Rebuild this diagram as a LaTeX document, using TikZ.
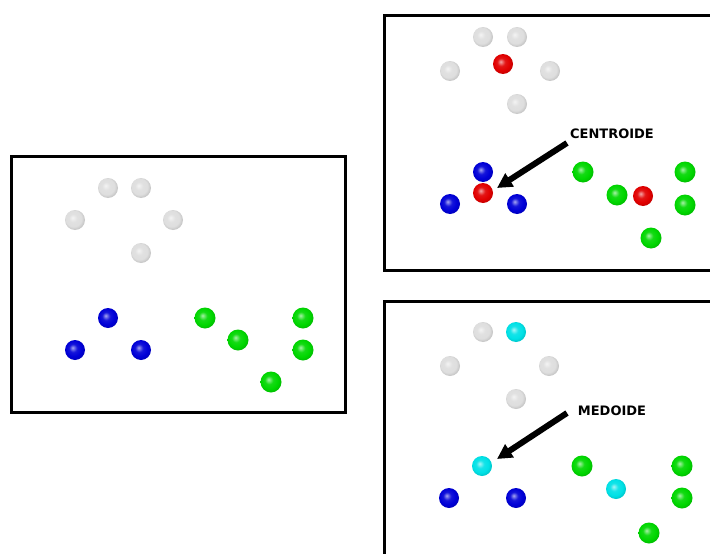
\documentclass[tikz,border=0pt]{standalone}
\usepackage{fontspec}
\setmainfont{DejaVu Sans}
\usetikzlibrary{arrows.meta}
\makeatletter
\pgfdeclareradialshading[tikz@ball]{softball}{\pgfpoint{-6bp}{6bp}}{%
  color(0bp)=(tikz@ball!35!white);
  color(10bp)=(tikz@ball!92!white);
  color(20bp)=(tikz@ball);
  color(31bp)=(tikz@ball!82!black);
  color(50bp)=(tikz@ball!65!black)}
\makeatother
\definecolor{myblue}{RGB}{0,0,215}
\definecolor{mygreen}{RGB}{0,215,0}
\definecolor{myred}{RGB}{225,0,0}
\definecolor{mycyan}{RGB}{0,225,230}
\definecolor{mywhite}{RGB}{222,222,222}
\tikzset{
  ball/.style={circle, minimum size=20pt, inner sep=0pt, ball color=#1, shading=softball},
  wb/.style={ball=mywhite},
  bb/.style={ball=myblue},
  gb/.style={ball=mygreen, minimum width=21pt},
  rb/.style={ball=myred},
  cb/.style={ball=mycyan},
  frame/.style={draw=black, line width=3pt},
  lbl/.style={font=\fontsize{13}{15}\selectfont\bfseries, inner sep=0pt},
  pointer/.style={line width=6pt, -{Triangle[length=15pt,width=15pt]}}
}
\begin{document}
\begin{tikzpicture}[x=1pt,y=-1pt]
\useasboundingbox (0,0) rectangle (710,554);
\clip (0,0) rectangle (710,554);
% frames
\draw[frame] (11,156) rectangle (345,412);
\draw[frame] (384,15) rectangle (720,270);
\draw[frame] (384,301) rectangle (720,570);
% left panel
\node[wb] (l1) at (108,188) {};
\node[wb] (l2) at (141,188) {};
\node[wb] (l3) at (75,220) {};
\node[wb] (l4) at (173,220) {};
\node[wb] (l5) at (141,253) {};
\node[bb] (l6) at (108,318) {};
\node[bb] (l7) at (75,350) {};
\node[bb] (l8) at (141,350) {};
\node[gb] (l9) at (205,318) {};
\node[gb] (l10) at (238,340) {};
\node[gb] (l11) at (303,318) {};
\node[gb] (l12) at (303,350) {};
\node[gb] (l13) at (271,382) {};
% top right panel
\node[wb] (t1) at (483,37) {};
\node[wb] (t2) at (517,37) {};
\node[wb] (t3) at (450,71) {};
\node[rb] (t4) at (503,64) {};
\node[wb] (t5) at (550,71) {};
\node[wb] (t6) at (517,104) {};
\node[bb] (t7) at (483,172) {};
\node[rb] (t8) at (483,193) {};
\node[bb] (t9) at (450,204) {};
\node[bb] (t10) at (517,204) {};
\node[gb] (t11) at (583,172) {};
\node[gb] (t12) at (617,195) {};
\node[rb] (t13) at (643,196) {};
\node[gb] (t14) at (685,172) {};
\node[gb] (t15) at (685,205) {};
\node[gb] (t16) at (651,238) {};
\node[lbl] (cent) at (612,134) {CENTROIDE};
\coordinate (cs) at (567,143);
\coordinate (ce) at (497,188);
\draw[pointer] (cs) -- (ce);
% bottom right panel
\node[wb] (b1) at (483,332) {};
\node[cb] (b2) at (516,332) {};
\node[wb] (b3) at (450,366) {};
\node[wb] (b4) at (549,366) {};
\node[wb] (b5) at (516,399) {};
\node[cb] (b6) at (482,466) {};
\node[bb] (b7) at (449,498) {};
\node[bb] (b8) at (516,498) {};
\node[gb] (b9) at (582,466) {};
\node[cb] (b10) at (616,489) {};
\node[gb] (b11) at (682,466) {};
\node[gb] (b12) at (682,498) {};
\node[gb] (b13) at (649,533) {};
\node[lbl] (med) at (612,411) {MEDOIDE};
\coordinate (ms) at (567,413);
\coordinate (me) at (497,459);
\draw[pointer] (ms) -- (me);
\end{tikzpicture}
\end{document}
